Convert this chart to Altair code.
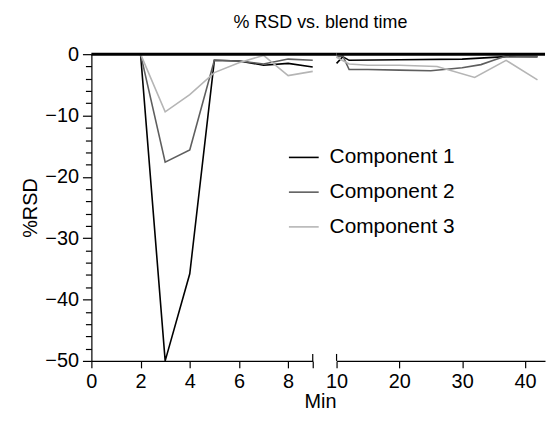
import altair as alt
import pandas as pd

components = ["Component 1", "Component 2", "Component 3"]
colors = ["#000000", "#5e5e5e", "#b5b5b5"]

# Early phase (0-9 min)
early_min = [2, 3, 4, 5, 6, 7, 8, 9]
early_c1 = [0, -50.0, -35.8, -1.0, -1.1, -1.8, -1.5, -2.1]
early_c2 = [0, -17.6, -15.6, -1.0, -1.1, -1.6, -0.8, -1.0]
early_c3 = [0, -9.4, -6.6, -3.0, -1.4, -0.2, -3.5, -2.8]

# Late phase (10-43 min)
late_min_c1 = [10, 11, 12, 20, 30, 37, 42]
late_c1 = [-1.5, -0.4, -1.0, -0.9, -0.8, -0.4, -0.4]
late_min_c2 = [10, 11, 12, 15, 20, 25, 30, 33, 35, 37, 42]
late_c2 = [-0.5, -0.3, -2.5, -2.5, -2.6, -2.7, -2.2, -1.7, -1.0, -0.3, -0.4]
late_min_c3 = [10, 12, 15, 20, 26, 32, 37, 42]
late_c3 = [-0.5, -1.6, -1.8, -1.8, -2.0, -3.8, -1.0, -4.2]

FONT = "Liberation Sans"


def frame(xs_list, ys_list):
    rows = []
    for comp, xs, ys in zip(components, xs_list, ys_list):
        for x, y in zip(xs, ys):
            rows.append({"min": x, "rsd": y, "component": comp})
    return pd.DataFrame(rows)


df_early = frame([early_min] * 3, [early_c1, early_c2, early_c3])
df_late = frame([late_min_c1, late_min_c2, late_min_c3], [late_c1, late_c2, late_c3])

LW, RW, H, GAP = 223, 210, 309, 24

yscale = alt.Scale(domain=[-50, 0], nice=False, zero=False)
tick_size = {"condition": {"test": "datum.value % 10 === 0", "value": 9}, "value": 6}
one = pd.DataFrame({"k": [0]})

left_lines = alt.Chart(df_early).mark_line(strokeWidth=1.6).encode(
    x=alt.X("min:Q", scale=alt.Scale(domain=[0, 9], nice=False),
            axis=alt.Axis(values=[0, 2, 4, 6, 8, 9], labelFlush=False,
                          labelExpr="datum.value == 9 ? '' : datum.label",
                          title=None, tickSize=7)),
    y=alt.Y("rsd:Q", scale=yscale,
            axis=alt.Axis(values=list(range(-50, 1, 2)),
                          labelExpr="datum.value % 10 === 0 ? datum.label : ''",
                          title="%RSD", tickSize=tick_size, titlePadding=4)),
    color=alt.Color("component:N", scale=alt.Scale(domain=components, range=colors),
                    legend=alt.Legend(title=None, orient="none", legendX=198, legendY=88,
                                      symbolType="stroke", symbolSize=900,
                                      symbolStrokeWidth=1.6, labelFontSize=21,
                                      labelFont=FONT, rowPadding=9, labelOffset=10,
                                      labelColor="black")),
    detail="component:N",
)
left_top = alt.Chart(one).mark_rule(strokeWidth=3, color="black", clip=False).encode(
    x=alt.value(0), x2=alt.value(LW + GAP), y=alt.value(0))
left_cap = alt.Chart(one).mark_rule(strokeWidth=1.2, color="black", clip=False).encode(
    x=alt.value(LW), y=alt.value(H - 7), y2=alt.value(H))
left = alt.layer(left_lines, left_top, left_cap).properties(width=LW, height=H)

right_lines = alt.Chart(df_late).mark_line(strokeWidth=1.6).encode(
    x=alt.X("min:Q", scale=alt.Scale(domain=[10, 43.2], nice=False),
            axis=alt.Axis(values=[10, 20, 30, 40], labelFlush=False, title=None, tickSize=7)),
    y=alt.Y("rsd:Q", scale=yscale, axis=None),
    color=alt.Color("component:N", scale=alt.Scale(domain=components, range=colors),
                    legend=None),
)
right_top = alt.Chart(one).mark_rule(strokeWidth=3, color="black", clip=False).encode(
    x=alt.value(0), x2=alt.value(RW), y=alt.value(0))
right_cap = alt.Chart(one).mark_rule(strokeWidth=1.2, color="black", clip=False).encode(
    x=alt.value(0), y=alt.value(H - 7), y2=alt.value(H))
right = alt.layer(right_lines, right_top, right_cap).properties(width=RW, height=H)

inner = alt.hconcat(left, right, spacing=GAP, bounds="flush").properties(
    title=alt.TitleParams("Min", orient="bottom", fontSize=20, font=FONT,
                          fontWeight="normal", anchor="middle", offset=0,
                          dx=37, color="black")
)
chart = alt.vconcat(inner).properties(
    title=alt.TitleParams("% RSD vs. blend time", fontSize=18, font=FONT,
                          fontWeight="normal", anchor="middle", offset=12,
                          dx=37, color="black"),
    padding={"left": 13, "top": 5, "right": 0, "bottom": 5},
).configure_view(stroke=None).configure_axis(
    grid=False, labelFont=FONT, labelFontSize=20, titleFont=FONT, titleFontSize=20,
    titleFontWeight="normal", domainColor="black", tickColor="black",
    labelColor="black", titleColor="black", domainWidth=1.2, tickWidth=1.2,
    labelPadding=4,
)

chart.save("out.html", embed_options={"renderer": "svg", "actions": False})
